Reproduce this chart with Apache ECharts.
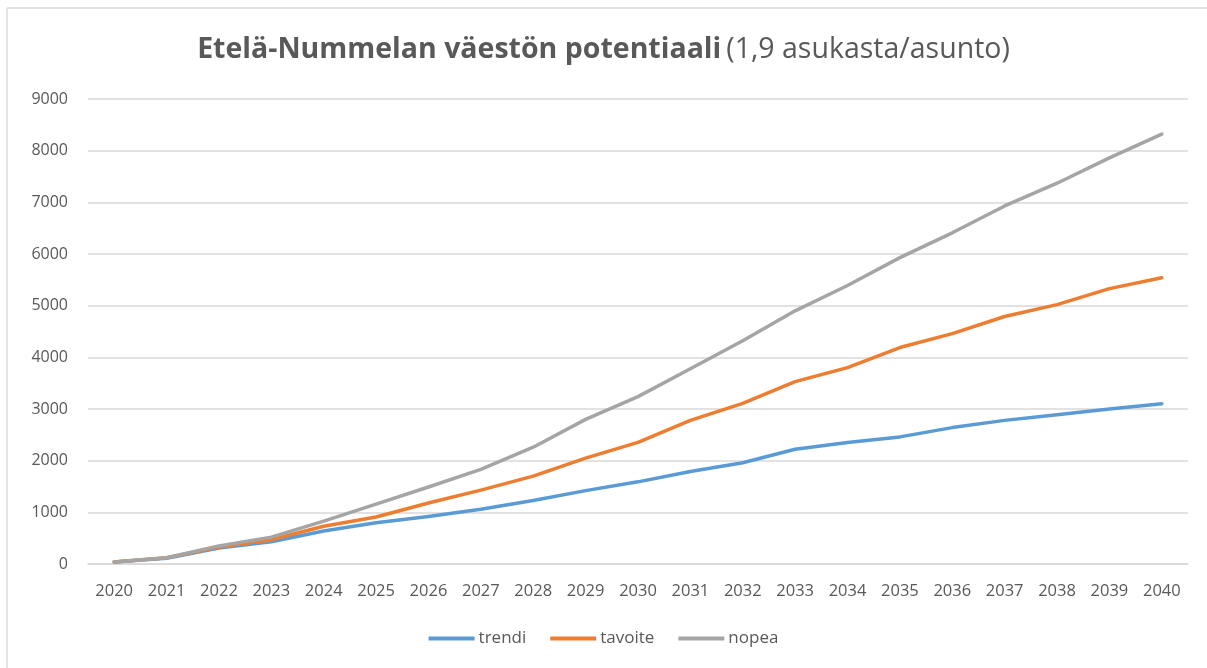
<!DOCTYPE html>
<html>
<head>
<meta charset="utf-8">
<script src="https://cdn.jsdelivr.net/npm/echarts@6/dist/echarts.min.js"></script>
<style>
    html, body { margin: 0; padding: 0; background: #fff; }
    #chart { width: 1207px; height: 668px; }
</style>
</head>
<body>
<div id="chart"></div>
<script>
    // vuodet
    var years = ['2020', '2021', '2022', '2023', '2024', '2025', '2026', '2027', '2028', '2029', '2030',
                 '2031', '2032', '2033', '2034', '2035', '2036', '2037', '2038', '2039', '2040'];

    // asukkaat (luettu kuvasta)
    var trendi  = [40, 110, 310, 430, 640, 800, 920, 1060, 1230, 1420, 1590,
                   1790, 1960, 2220, 2350, 2460, 2640, 2780, 2890, 3000, 3100];
    var tavoite = [40, 120, 330, 470, 730, 910, 1180, 1430, 1700, 2050, 2355,
                   2780, 3110, 3530, 3800, 4190, 4460, 4790, 5020, 5330, 5540];
    var nopea   = [40, 120, 350, 520, 830, 1160, 1490, 1830, 2260, 2800, 3240,
                   3780, 4320, 4900, 5390, 5930, 6410, 6930, 7370, 7860, 8320];

    var yTicks = { min: 0, max: 9000, interval: 1000 };

    var chart = echarts.init(document.getElementById('chart'));
    var font = '"Open Sans", "Noto Sans", sans-serif';

    function line(name, data, color) {
        return {
            name: name,
            type: 'line',
            data: data,
            symbol: 'none',
            smooth: false,
            lineStyle: { width: 3.5, color: color, cap: 'round', join: 'round' },
            itemStyle: { color: color }
        };
    }

    chart.setOption({
        backgroundColor: '#fff',
        animation: false,
        title: {
            text: '{b|Etelä-Nummelan väestön potentiaali} {r|(1,9 asukasta/asunto)}',
            left: 'center',
            top: 30,
            textStyle: {
                rich: {
                    b: { fontFamily: font, fontSize: 28.5, fontWeight: 'bold', color: '#595959' },
                    r: { fontFamily: font, fontSize: 28.5, fontWeight: 'normal', color: '#595959' }
                }
            }
        },
        graphic: [
            { type: 'line', shape: { x1: 7, y1: 8, x2: 1207, y2: 8 }, style: { stroke: '#e3e3e3', lineWidth: 2 } },
            { type: 'line', shape: { x1: 7, y1: 8, x2: 7, y2: 668 }, style: { stroke: '#e3e3e3', lineWidth: 2 } }
        ],
        legend: {
            bottom: 16,
            left: 'center',
            itemWidth: 46,
            itemHeight: 4,
            itemGap: 24,
            icon: 'rect',
            textStyle: { fontFamily: font, fontSize: 17, color: '#595959', padding: [0, 0, 0, -1] },
            data: ['trendi', 'tavoite', 'nopea']
        },
        grid: { left: 88, right: 19, top: 99, bottom: 104 },
        xAxis: {
            type: 'category',
            data: years,
            boundaryGap: true,
            axisLine: { lineStyle: { color: '#d9d9d9', width: 1.5 } },
            axisTick: { show: false },
            axisLabel: { fontFamily: font, fontSize: 16.5, color: '#595959', margin: 19 }
        },
        yAxis: {
            type: 'value',
            min: yTicks.min,
            max: yTicks.max,
            interval: yTicks.interval,
            axisLine: { show: false },
            axisTick: { show: false },
            splitLine: { lineStyle: { color: '#d9d9d9', width: 1.5 } },
            axisLabel: {
                fontFamily: font, fontSize: 16, color: '#595959', margin: 20,
                formatter: function (v) { return String(v); }
            }
        },
        series: [
            line('trendi', trendi, '#5B9BD5'),
            line('tavoite', tavoite, '#ED7D31'),
            line('nopea', nopea, '#A5A5A5')
        ]
    });
</script>
</body>
</html>
